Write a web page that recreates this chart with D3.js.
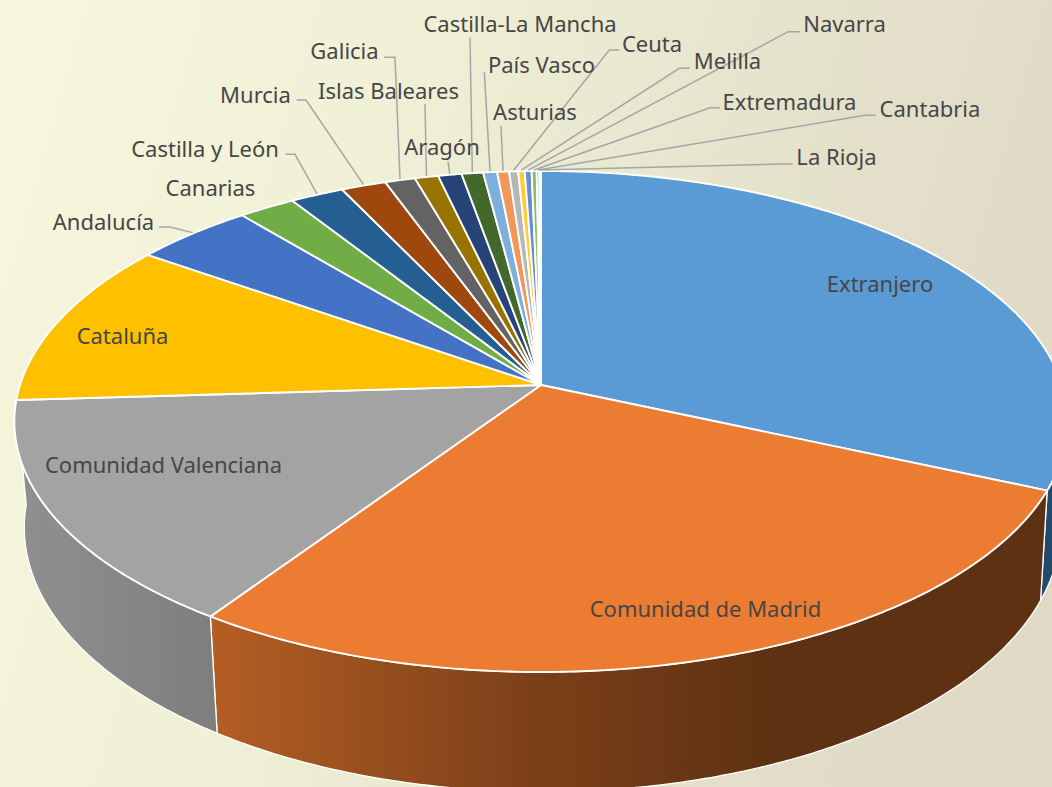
<!DOCTYPE html>
<html><head><meta charset="utf-8">
<script src="https://cdnjs.cloudflare.com/ajax/libs/d3/7.8.5/d3.min.js"></script>
<style>html,body{margin:0;padding:0;overflow:hidden;background:#eeeed8}svg{display:block}</style>
</head><body><svg id="c" width="1052" height="787"></svg>
<script>
const categories = ["Extranjero","Comunidad de Madrid","Comunidad Valenciana","Cataluña","Andalucía","Canarias","Castilla y León","Murcia","Galicia","Islas Baleares","Aragón","Castilla-La Mancha","País Vasco","Asturias","Ceuta","Melilla","Navarra","Extremadura","Cantabria","La Rioja"];
const values = [31.64,27.78,14.61,10.72,4.23,2.02,1.89,1.59,1.07,0.83,0.83,0.76,0.49,0.42,0.32,0.23,0.24,0.18,0.09,0.06];
const colors = ["#5B9BD5","#EC7C31","#A3A3A3","#FFC000","#4472C4","#70AD47","#255E91","#9E480E","#636363","#997300","#264478","#43682B","#7CAFDD","#F1975A","#B7B7B7","#FFCD33","#698ED0","#8CC168","#327DC2","#D26012"];

// label layout: centre x, centre y, leader start, leader elbow
const labelCx = [880,705.5,163.5,122.5,103.5,210.5,205,255.5,344.5,388.5,442,520,541.5,535,652,727.5,844.5,789.5,930,836.5];
const labelCy = [282.5,607.5,463.5,334.5,220.5,186.5,147.5,93.5,49.5,89.5,145.5,22.5,63.5,110.5,42.5,59.5,22.5,100.5,107.5,155.5];
const leaderStart = [null,null,null,null,[159,227],null,[285.7,154.3],[296.7,100],[384.3,57.3],[425,104],[448,161.3],[470,37.3],[484.3,72],[501,126],[619.3,50],[690,68.3],[800,31.7],[720,107.7],[875.7,115.3],[792.7,164]];
const leaderElbow = [null,null,null,null,[170,227],null,[295,154.3],[306,100],[395,57.3],null,null,null,null,null,[609.3,50],[679.3,68.3],[788.3,31.7],[710,107.7],[865,115.3],[781.7,164]];

const W=1052,H=787, apexX=541, apexY=385, k=-0.1457, a=521, b=245.2;
const svg=d3.select("#c");
const defs=svg.append("defs");
const bg=defs.append("linearGradient").attr("id","bg").attr("gradientUnits","userSpaceOnUse")
  .attr("x1",0).attr("y1",120).attr("x2",1052).attr("y2",420);
[[0,"#f5f6dc"],[0.35,"#eff0d6"],[0.65,"#e6e4cd"],[1,"#dfd9c6"]].forEach(s=>bg.append("stop").attr("offset",s[0]).attr("stop-color",s[1]));
const g1=defs.append("linearGradient").attr("id","wMadrid").attr("gradientUnits","userSpaceOnUse").attr("x1",210).attr("x2",770).attr("y1",0).attr("y2",0);
[[0,"#b45e24"],[0.55,"#7e4119"],[1,"#5e3112"]].forEach(s=>g1.append("stop").attr("offset",s[0]).attr("stop-color",s[1]));
const g2=defs.append("linearGradient").attr("id","wVal").attr("gradientUnits","userSpaceOnUse").attr("x1",15).attr("x2",217).attr("y1",0).attr("y2",0);
[[0,"#909090"],[1,"#7e7e7e"]].forEach(s=>g2.append("stop").attr("offset",s[0]).attr("stop-color",s[1]));

svg.append("rect").attr("width",W).attr("height",H).attr("fill","url(#bg)");

const pie=d3.pie().sort(null).value(d=>d)(values);
function topPt(t){const x=Math.sin(t),y=-Math.cos(t),d=1+k*y;return [apexX+a*x/d,apexY+b*y/d];}
function botPt(t){const p=topPt(t);return [apexX+1.5+(p[0]-apexX)*0.984,p[1]+106+0.055*(p[1]-421)];}
function arcPts(f,t0,t1){const n=Math.max(2,Math.ceil(Math.abs(t1-t0)/0.01));return d3.range(n+1).map(i=>f(t0+(t1-t0)*i/n));}
const line=d3.line();

// outer walls
const wallFill=["#234a6b","url(#wMadrid)","url(#wVal)"];
pie.slice(0,3).forEach((p,i)=>{
  const pts=arcPts(topPt,p.startAngle,p.endAngle).concat(arcPts(botPt,p.endAngle,p.startAngle));
  svg.append("path").attr("d",line(pts)+"Z").attr("fill",wallFill[i]).attr("stroke","#fff").attr("stroke-width",1.3).attr("stroke-linejoin","round");
});
// top faces
svg.append("g").selectAll("path").data(pie).join("path")
  .attr("d",p=>line([[apexX,apexY]].concat(arcPts(topPt,p.startAngle,p.endAngle)))+"Z")
  .attr("fill",(p,i)=>colors[i]).attr("stroke","#fff").attr("stroke-width",1.9).attr("stroke-linejoin","round");

// leaders
categories.forEach((c,i)=>{
  if(!leaderStart[i])return;
  const m=(pie[i].startAngle+pie[i].endAngle)/2, e=topPt(m);
  const pts=[leaderStart[i]]; if(leaderElbow[i])pts.push(leaderElbow[i]); pts.push([e[0],e[1]-1]);
  svg.append("path").attr("d",line(pts)).attr("fill","none").attr("stroke","#a6a6a6").attr("stroke-width",1.5);
});
// labels
svg.append("g").selectAll("text").data(categories).join("text")
  .attr("x",(d,i)=>labelCx[i]).attr("y",(d,i)=>labelCy[i]).attr("text-anchor","middle").attr("dominant-baseline","central")
  .attr("font-family","'Noto Sans',sans-serif").attr("font-size",22).attr("fill","#464646").text(d=>d);
</script></body></html>
